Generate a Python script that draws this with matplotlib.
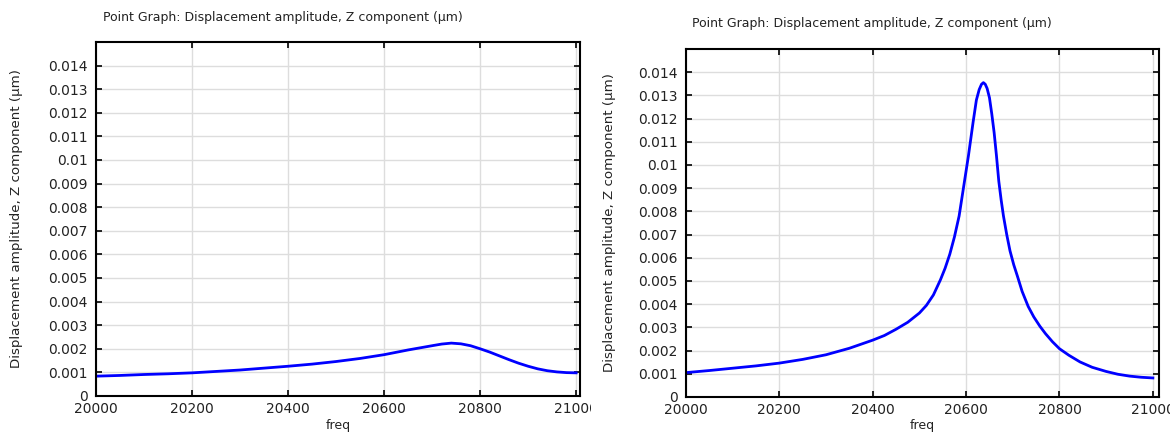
import numpy as np
import matplotlib
matplotlib.use("Agg")
import matplotlib.pyplot as plt
from matplotlib.transforms import Bbox, TransformedBbox

# left panel: broad response
freq_a = [20000, 20050, 20100, 20150, 20200, 20250, 20300, 20350, 20400, 20450,
          20500, 20550, 20600, 20650, 20700, 20720, 20740, 20760, 20780, 20800,
          20820, 20840, 20860, 20880, 20900, 20920, 20940, 20960, 20980, 21000]
disp_a = [0.00084, 0.00087, 0.00091, 0.00094, 0.00098, 0.00104, 0.00110, 0.00118,
          0.00126, 0.00135, 0.00146, 0.00159, 0.00175, 0.00195, 0.00213, 0.00220,
          0.00224, 0.00221, 0.00213, 0.00200, 0.00186, 0.00170, 0.00154, 0.00139,
          0.00126, 0.00115, 0.00107, 0.00102, 0.00099, 0.00098]

# right panel: sharp resonance
freq_b = [20000, 20050, 20100, 20150, 20200, 20250, 20300, 20350, 20400, 20425,
          20450, 20475, 20500, 20515, 20530, 20545, 20555, 20565, 20575, 20585,
          20595, 20605, 20615, 20622, 20628, 20633, 20637, 20641, 20645, 20650,
          20655, 20660, 20665, 20670, 20675, 20680, 20687, 20694, 20702, 20710,
          20720, 20733, 20745, 20758, 20770, 20785, 20800, 20820, 20844, 20870,
          20900, 20925, 20950, 20975, 21000]
disp_b = [0.00105, 0.00114, 0.00124, 0.00134, 0.00146, 0.00162, 0.00182, 0.00210,
          0.00245, 0.00265, 0.00292, 0.00322, 0.00362, 0.00395, 0.00440, 0.00505,
          0.00555, 0.00615, 0.00690, 0.00780, 0.00910, 0.01040, 0.01185, 0.01280,
          0.01325, 0.01348, 0.01355, 0.01348, 0.01330, 0.01290, 0.01220, 0.01140,
          0.01040, 0.00930, 0.00850, 0.00780, 0.00700, 0.00630, 0.00570, 0.00520,
          0.00455, 0.00390, 0.00345, 0.00305, 0.00273, 0.00238, 0.00208, 0.00180,
          0.00151, 0.00128, 0.00110, 0.00098, 0.00090, 0.00085, 0.00082]

xticks = [20000, 20200, 20400, 20600, 20800, 21000]
yticks = [round(i * 0.001, 3) for i in range(15)]
title = "Point Graph: Displacement amplitude, Z component (\u00b5m)"
ylab = "Displacement amplitude, Z component (\u00b5m)"

fig = plt.figure(figsize=(11.76, 4.34), dpi=100)

def panel(rect, fx, fy, xmax, tx, ty, ylx):
    ax = fig.add_axes(rect)
    ax.plot(fx, fy, color="#0000ff", lw=2)
    ax.set_xlim(20000, xmax)
    ax.set_ylim(0, 0.015)
    ax.set_xticks(xticks)
    ax.set_xticklabels([str(v) for v in xticks])
    ax.set_yticks(yticks)
    ax.set_yticklabels([f"{v:g}" for v in yticks])
    ax.grid(True, color="#dddddd", lw=1)
    ax.set_axisbelow(True)
    ax.tick_params(direction="in", length=4, width=1.2, top=True, right=True,
                   labelsize=10, colors="black", labelcolor="#222222")
    ax.tick_params(axis="y", pad=6)
    ax.tick_params(axis="x", pad=4.5)
    for s in ax.spines.values():
        s.set_linewidth(1.5)
    # last x label is cut a little past the right spine, like the source
    wpx = rect[2] * 1176
    clip = TransformedBbox(Bbox([[-0.3, -0.3], [1 + 11 / wpx, 1.1]]), ax.transAxes)
    for lbl in ax.get_xticklabels():
        lbl.set_clip_box(clip)
        lbl.set_clip_on(True)
    fig.text(tx, ty, title, fontsize=9, ha="left", va="center", color="#222222")
    fig.text(ylx, rect[1] + rect[3] / 2, ylab, fontsize=9.6, rotation=90,
             ha="center", va="center", color="#222222")
    fig.text(rect[0] + rect[2] / 2, 8 / 434, "freq", fontsize=9,
             ha="center", va="center", color="#222222")
    return ax

panel([0.0816, 0.0876, 0.4116, 0.8157], freq_a, disp_a, 21008,
      103 / 1176, 1 - 17 / 434, 17 / 1176)
panel([0.5833, 0.0853, 0.4022, 0.8018], freq_b, disp_b, 21013,
      692 / 1176, 1 - 24 / 434, 609 / 1176)

fig.savefig("out.png", dpi=100)
